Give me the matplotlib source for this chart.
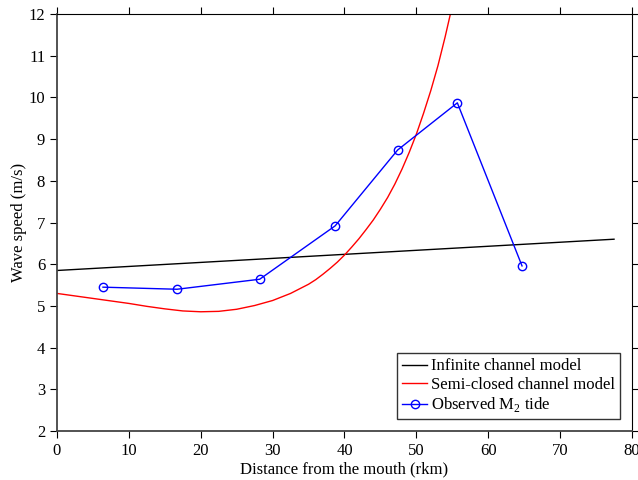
import numpy as np
import matplotlib.pyplot as plt

plt.rcParams['font.family'] = ['Liberation Serif', 'DejaVu Serif']
plt.rcParams['mathtext.fontset'] = 'custom'
plt.rcParams['mathtext.rm'] = 'Liberation Serif'

# infinite channel model (straight line)
inf_x = [0, 77.5]
inf_y = [5.85, 6.6]

# semi-closed channel model
semi_x = [0, 2.5, 5, 7.5, 10, 12.5, 15, 17.5, 20, 22.5, 25, 27.5, 30, 32.5,
          35, 36, 37, 38, 39, 40, 41, 42, 43, 44, 45, 46, 47, 48, 49, 50,
          51, 52, 53, 54, 55]
semi_y = [5.30, 5.24, 5.18, 5.12, 5.06, 4.99, 4.93, 4.88, 4.86, 4.87, 4.92, 5.01, 5.13, 5.30,
          5.52, 5.63, 5.76, 5.90, 6.05, 6.22, 6.41, 6.61, 6.83, 7.06, 7.32, 7.60, 7.92, 8.28, 8.68, 9.12,
          9.62, 10.16, 10.76, 11.45, 12.2]

# observed M2 tide
obs_x = [6.4, 16.7, 28.2, 38.7, 47.4, 55.7, 64.7]
obs_y = [5.45, 5.40, 5.64, 6.92, 8.74, 9.87, 5.96]

fig = plt.figure(figsize=(6.38, 4.8), dpi=100)
ax = fig.add_axes([0.0893, 0.102, 0.9013, 0.8688])

ax.plot(inf_x, inf_y, color='black', lw=1, label='Infinite channel model')
ax.plot(semi_x, semi_y, color='red', lw=1, label='Semi-closed channel model')
ax.plot(obs_x, obs_y, color='blue', lw=1, marker='o', markersize=6,
        fillstyle='none', markeredgewidth=1, label='Observed M$_2$ tide')

ax.set_xlim(0, 80)
ax.set_ylim(2, 12)
ax.set_xticks(np.arange(0, 81, 10))
ax.set_yticks(np.arange(2, 13, 1))
ax.tick_params(direction='out', length=5, labelsize=12, top=True, right=True,
               labeltop=False, labelright=False)

for side in ['left', 'bottom']:
    ax.spines[side].set_color('#444444')
    ax.spines[side].set_linewidth(1.3)

ax.set_xlabel('Distance from the mouth (rkm)', fontsize=12, labelpad=2)
ax.set_ylabel('Wave speed (m/s)', fontsize=12, labelpad=1)

leg = ax.legend(loc='lower right', fontsize=12, frameon=True, fancybox=False,
                handlelength=1.5, handletextpad=0.25, borderpad=0.3,
                labelspacing=0.15, borderaxespad=0.7)
leg.get_frame().set_edgecolor('black')
leg.get_frame().set_linewidth(1)

fig.savefig('out.png', dpi=100)
